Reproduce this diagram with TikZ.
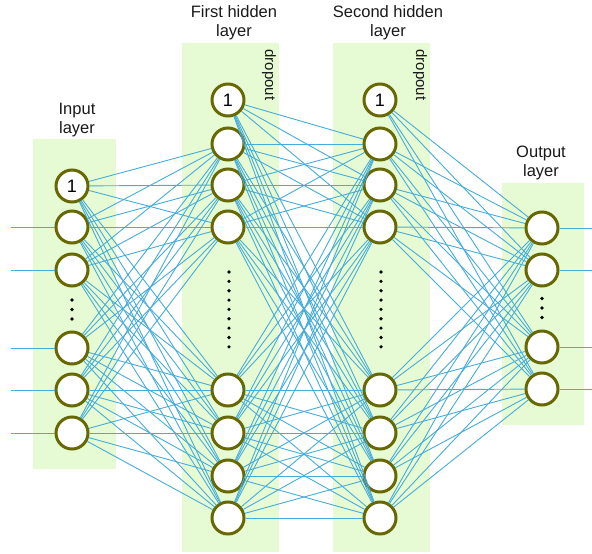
\documentclass[tikz,border=0pt]{standalone}
\usepackage{fontspec}
\setmainfont{Liberation Sans}
\definecolor{bggreen}{RGB}{230,251,212}
\definecolor{nodeol}{RGB}{104,104,0}
\definecolor{linkblue}{RGB}{70,172,218}
\definecolor{titlegray}{RGB}{25,25,25}
\begin{document}
\begin{tikzpicture}[x=1pt,y=-1pt,
  neuron/.style={circle,draw=nodeol,line width=3pt,fill=white,minimum size=32pt,inner sep=0pt},
  onelbl/.style={font=\fontsize{18}{18}\selectfont,inner sep=0pt},
  layerbg/.style={fill=bggreen,draw=none},
  conn/.style={draw=linkblue,line width=0.9pt},
  title/.style={align=center,font=\fontsize{16.5}{19}\selectfont,text=titlegray,inner sep=0pt},
  dotm/.style={fill=black,circle,inner sep=0pt,minimum size=3.6pt},
  droplbl/.style={rotate=-90,font=\fontsize{15}{15}\selectfont,text=titlegray,inner sep=0pt}
]
\useasboundingbox (0,0) rectangle (592,554);
% layer backgrounds
\fill[layerbg] (33,139) rectangle (116,469);
\fill[layerbg] (182,43) rectangle (279,552);
\fill[layerbg] (333,43) rectangle (430,552);
\fill[layerbg] (502,183) rectangle (584,425);
% titles
\node[title] (tin) at (77,120) {Input\\layer};
\node[title] (th1) at (234,23) {First hidden\\layer};
\node[title] (th2) at (388,23) {Second hidden\\layer};
\node[title] (tout) at (541,163) {Output\\layer};
\node[droplbl] (d1) at (269,75) {dropout};
\node[droplbl] (d2) at (420,75) {dropout};
% nodes
\foreach \y [count=\k] in {186,227,270,348,390,433}
  \node[neuron] (i\k) at (72,\y) {};
\node[onelbl] (li1) at (i1) {1};
\foreach \y [count=\k] in {100,144,185,227,390,433,476,518}{
  \node[neuron] (h\k) at (228,\y) {};
  \node[neuron] (g\k) at (380,\y) {};
}
\node[onelbl] (lh1) at (h1) {1};
\node[onelbl] (lg1) at (g1) {1};
\foreach \y [count=\k] in {228,270,347,389}
  \node[neuron] (o\k) at (542,\y) {};
% dots
\foreach \y [count=\k] in {300,309.5,319}{
  \node[dotm] (di\k) at (72,\y) {};
  \node[dotm] (do\k) at (542,\y-1.5) {};
}
\foreach \k in {0,...,8}{
  \node[dotm] (dh\k) at (229,272+9.35*\k) {};
  \node[dotm] (dg\k) at (381,272+9.35*\k) {};
}
% external inputs and outputs
\foreach \k/\y in {2/227,3/270,4/348,5/390,6/433}{
  \coordinate (xin\k) at (11,\y);
  \draw[conn] (xin\k) -- (i\k);
}
\foreach \k/\y in {1/228,2/270,3/347,4/389}{
  \coordinate (xout\k) at (592,\y);
  \draw[conn] (o\k) -- (xout\k);
}
% connections
\foreach \a in {1,...,6}
  \foreach \b in {2,...,8}
    \draw[conn] (i\a) -- (h\b);
\foreach \a in {1,...,8}
  \foreach \b in {2,...,8}
    \draw[conn] (h\a) -- (g\b);
\foreach \a in {1,...,8}
  \foreach \b in {1,...,4}
    \draw[conn] (g\a) -- (o\b);
\end{tikzpicture}
\end{document}
